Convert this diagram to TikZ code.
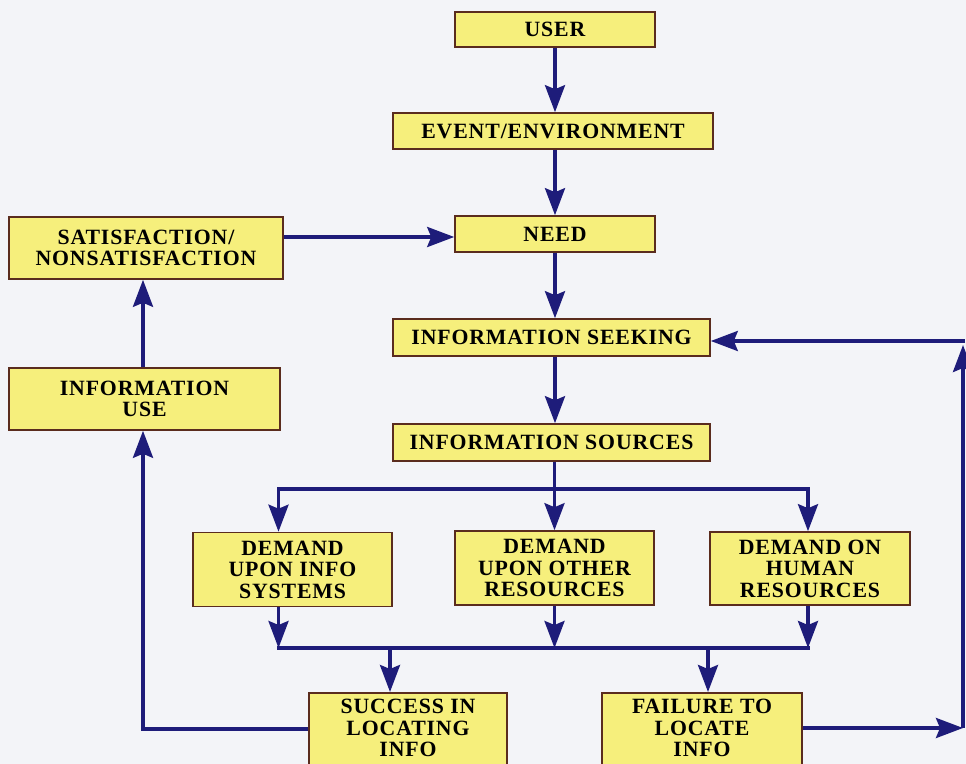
\documentclass[tikz,border=0pt]{standalone}
\usepackage{fontspec}
\setmainfont{Liberation Serif}[LetterSpace=4]
\usetikzlibrary{arrows.meta}
\definecolor{boxfill}{HTML}{F6EF7C}
\definecolor{boxline}{HTML}{5A2C1E}
\definecolor{flow}{HTML}{1E1C7A}
\definecolor{paper}{HTML}{F3F4F8}
\tikzset{
  box/.style={draw=boxline, line width=0.9pt, fill=boxfill, inner sep=0pt,
    align=center, font=\bfseries\fontsize{12.4}{12.2}\selectfont},
  caption/.style={inner sep=0pt, align=center, font=\bfseries\fontsize{12.4}{12.2}\selectfont},
  link/.style={draw=flow, line width=2pt, line cap=rect},
  arr/.style={draw=flow, line width=2pt, -{Stealth[length=0.54cm, width=0.40cm, inset=0.08cm]}},
}
\begin{document}
\begin{tikzpicture}
\useasboundingbox (0,0) rectangle (19.32,-15.28);
\clip (0,0) rectangle (19.32,-15.28);
\fill[paper] (0,0) rectangle (19.32,-15.28);

% boxes of the main chain
\node[box, minimum width=4.0cm, minimum height=0.70cm] (user) at (11.10,-0.59) {USER};
\node[box, minimum width=6.4cm, minimum height=0.72cm] (event) at (11.06,-2.62) {EVENT/ENVIRONMENT};
\node[box, minimum width=4.0cm, minimum height=0.72cm] (need) at (11.10,-4.68) {NEED};
\node[box, minimum width=6.34cm, minimum height=0.74cm] (seek) at (11.03,-6.75) {INFORMATION SEEKING};
\node[box, minimum width=6.34cm, minimum height=0.74cm] (sources) at (11.03,-8.85) {INFORMATION SOURCES};

% left column
\node[box, minimum width=5.48cm, minimum height=1.24cm] (sat) at (2.92,-4.96) {SATISFACTION/\\NONSATISFACTION};
\node[box, minimum width=5.42cm, minimum height=1.24cm] (use) at (2.89,-7.98) {INFORMATION\\USE};

% demand row
\node[box, minimum width=3.98cm, minimum height=1.48cm] (d1) at (5.85,-11.39) {DEMAND\\UPON INFO\\SYSTEMS};
\node[box, minimum width=3.98cm, minimum height=1.48cm] (d2) at (11.09,-11.36) {DEMAND\\UPON OTHER\\RESOURCES};
\node[box, minimum width=4.0cm, minimum height=1.46cm] (d3) at (16.20,-11.37) {DEMAND ON\\HUMAN\\RESOURCES};

% outcome boxes (running past the lower edge)
\node[box, minimum width=3.96cm, minimum height=1.80cm, anchor=north] (succ) at (8.16,-13.84) {};
\node[caption] (succtxt) at (8.16,-14.56) {SUCCESS IN\\LOCATING\\INFO};
\node[box, minimum width=4.0cm, minimum height=1.80cm, anchor=north] (fail) at (14.04,-13.84) {};
\node[caption] (failtxt) at (14.04,-14.56) {FAILURE TO\\LOCATE\\INFO};

% junction points
\coordinate (bl) at (5.57,-9.78);
\coordinate (br) at (16.16,-9.78);
\coordinate (lbl) at (5.57,-12.96);
\coordinate (lbr) at (16.16,-12.96);
\coordinate (sl) at (2.86,-14.58);
\coordinate (rc) at (19.26,-14.56);
\coordinate (tr) at (19.30,-6.82);

% main chain
\draw[arr] (user.south -| 11.10,0) -- (11.10,0 |- event.north);
\draw[arr] (event.south -| 11.10,0) -- (11.10,0 |- need.north);
\draw[arr] (sat.east |- 0,-4.74) -- (need.west |- 0,-4.74);
\draw[arr] (need.south -| 11.10,0) -- (11.10,0 |- seek.north);
\draw[arr] (seek.south -| 11.10,0) -- (11.10,0 |- sources.north);

% fan out to the demands
\draw[arr] (sources.south -| d2) -- (d2.north);
\draw[link] (bl) -- (br);
\draw[arr] (bl) -- (bl |- d1.north);
\draw[arr] (br) -- (br |- d3.north);

% gather the demands
\draw[arr] (d1.south -| bl) -- (lbl);
\draw[arr] (d2.south) -- (d2.south |- lbl);
\draw[arr] (d3.south -| br) -- (lbr);
\draw[link] (lbl) -- (lbr);
\draw[arr] (7.80,-12.96) -- (7.80,0 |- succ.north);
\draw[arr] (14.16,-12.96) -- (14.16,0 |- fail.north);

% success loop back to use and satisfaction
\draw[arr] (succ.west |- sl) -- (sl) -- (sl |- use.south);
\draw[arr] (use.north -| sl) -- (sl |- sat.south);

% failure loop back to seeking
\draw[arr] (fail.east |- rc) -- (rc);
\draw[arr] (rc) -- (19.26,-6.90);
\draw[arr] (tr) -- (seek.east |- tr);
\end{tikzpicture}
\end{document}
